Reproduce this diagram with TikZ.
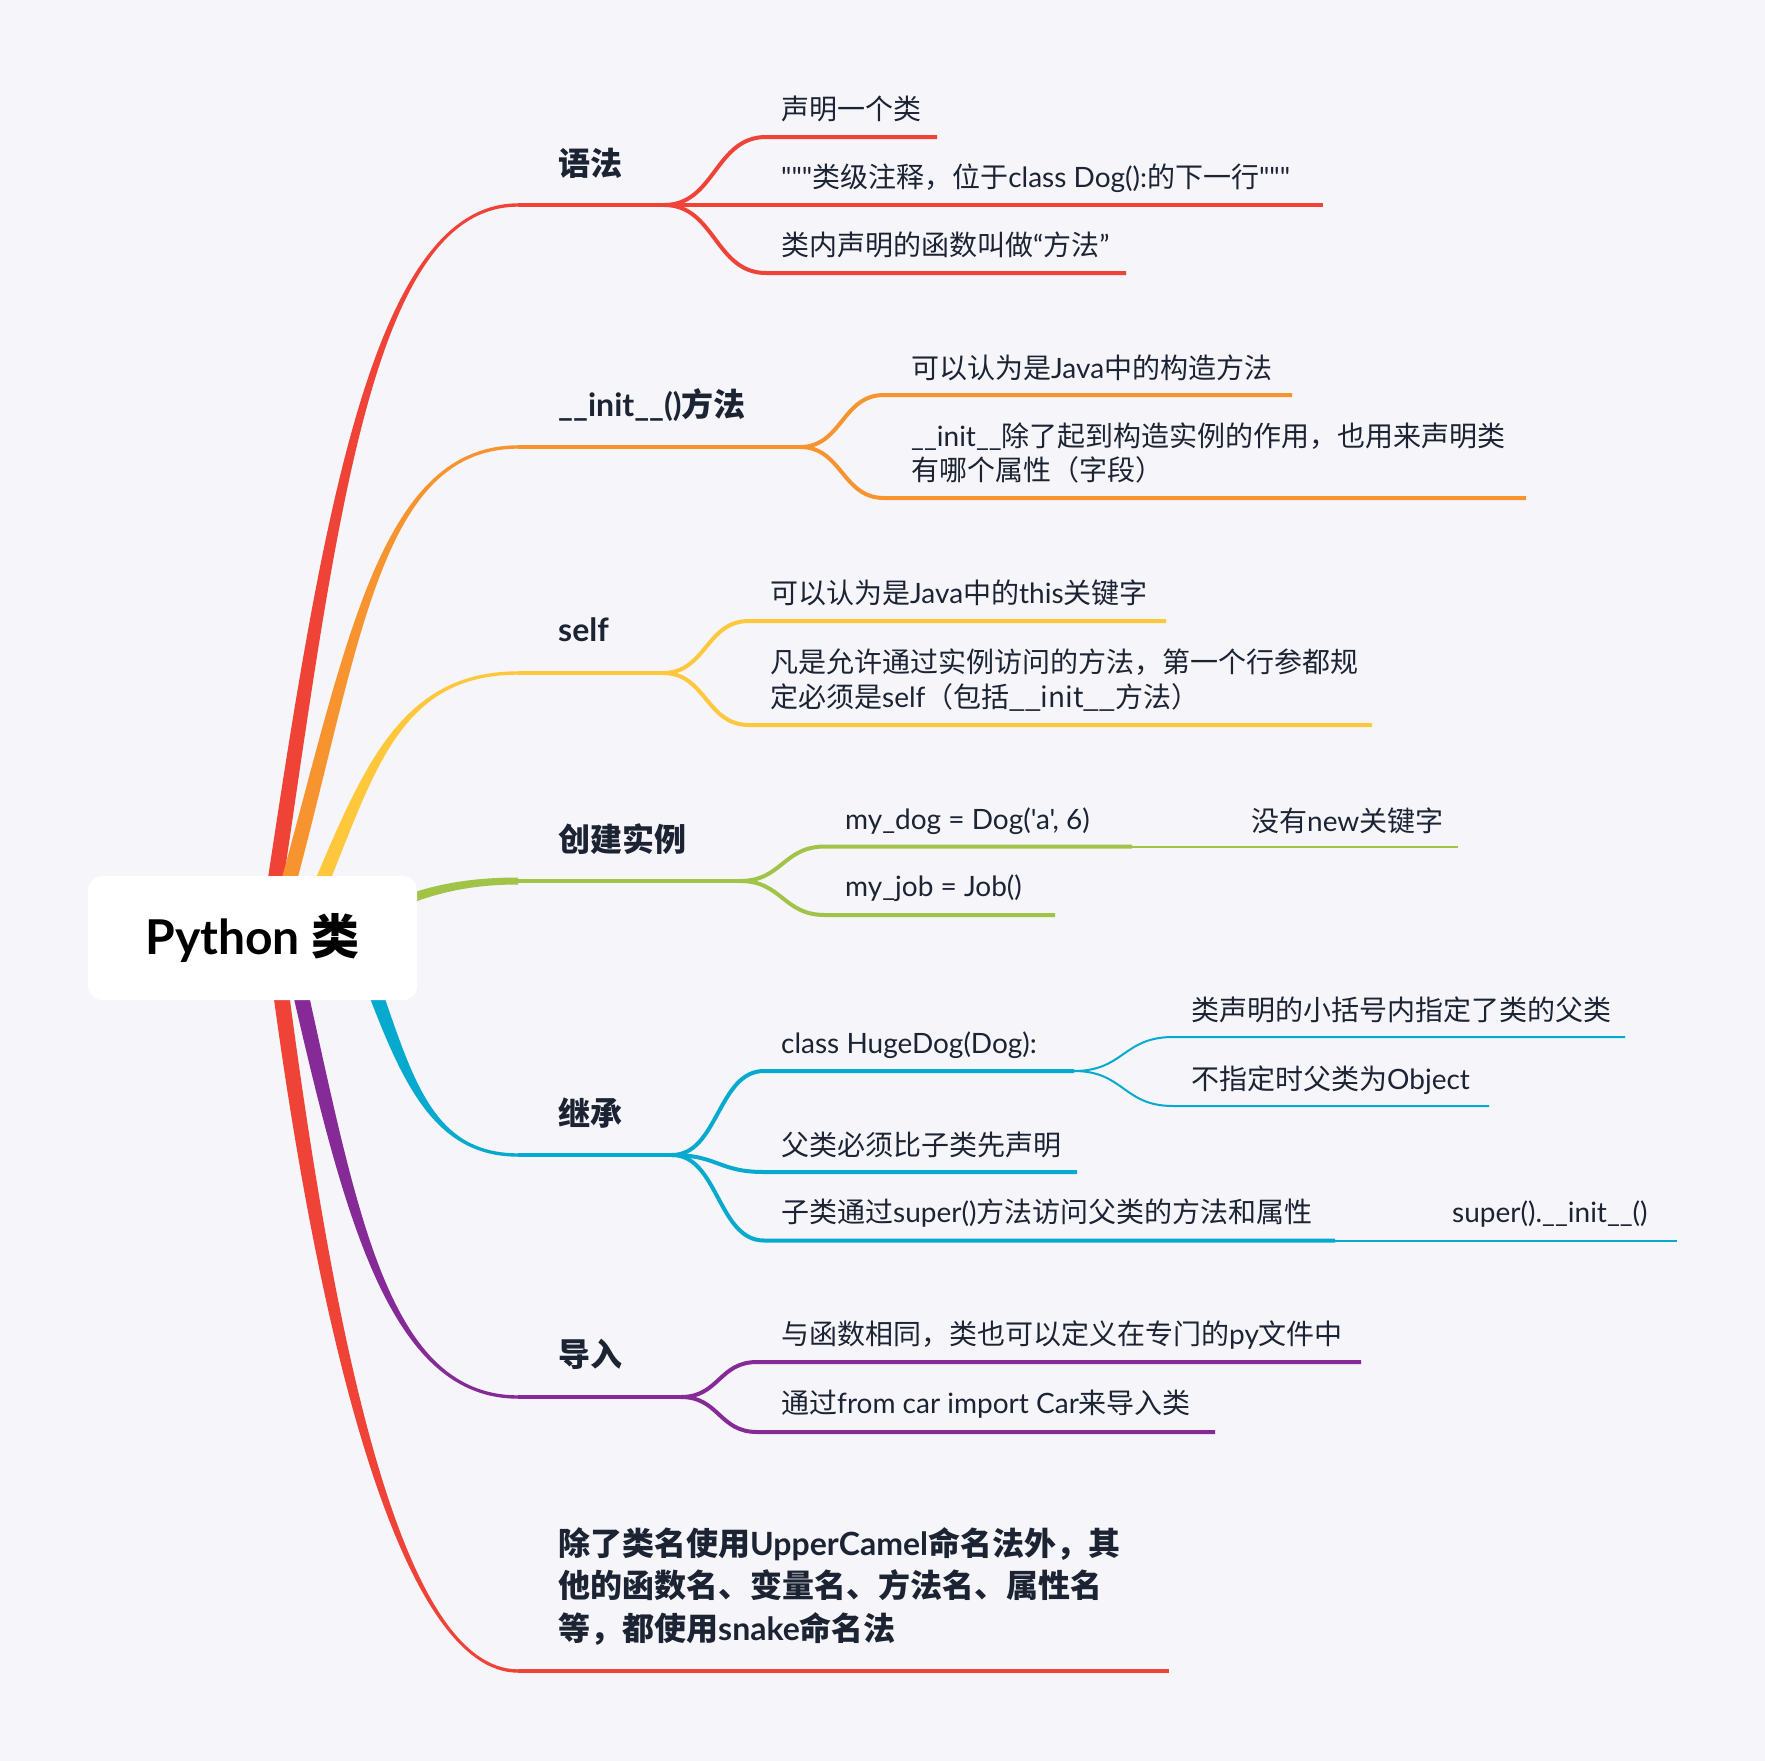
\documentclass[tikz,border=0pt]{standalone}
\usepackage{fontspec}
\usetikzlibrary{calc}
\newfontfamily\latinfont{Lato}
\newfontfamily\cjkfont{Noto Sans CJK SC}
\XeTeXinterchartokenstate=1
\newXeTeXintercharclass\CJKcls
\makeatletter
\def\setcjkrange#1#2{\count@=#1\relax\loop\XeTeXcharclass\count@=\CJKcls\relax\ifnum\count@<#2\relax\advance\count@\@ne\repeat}
\makeatother
\setcjkrange{"3000}{"303F}
\setcjkrange{"4E00}{"9FFF}
\setcjkrange{"FF00}{"FFEF}
\XeTeXinterchartoks 0 \CJKcls = {\cjkfont}
\XeTeXinterchartoks 4095 \CJKcls = {\cjkfont}
\XeTeXinterchartoks \CJKcls 0 = {\latinfont}
\definecolor{bg}{RGB}{245,245,250}
\definecolor{ink}{RGB}{28,36,52}
\definecolor{cred}{RGB}{240,67,55}
\definecolor{corange}{RGB}{248,148,48}
\definecolor{cyellow}{RGB}{255,200,60}
\definecolor{cgreen}{RGB}{161,196,72}
\definecolor{ccyan}{RGB}{6,170,207}
\definecolor{cpurple}{RGB}{133,42,150}
% tapered main branch: color, start, ctrl1, ctrl2 dx (relative to end), end, sign (-1 up, +1 down)
\newcommand\mainbranch[6]{%
  \fill[#1] ($(#2)+(-8,0)$) .. controls ($(#3)+(-8,0)$) and ($(#5)+(#4,{(#6)*1.7})$) .. ($(#5)+(0,{(#6)*1.7})$)
    -- ($(#5)+(0,{-(#6)*1.7})$) .. controls ($(#5)+(#4,{-(#6)*1.7})$) and ($(#3)+(8,0)$) .. ($(#2)+(8,0)$) -- cycle;}
\tikzset{
  childtext/.style={anchor=west, inner sep=0pt, text=ink, align=left,
    font=\latinfont\fontsize{28}{34.5}\selectfont},
  mlabel/.style={anchor=west, inner sep=0pt, text=ink, align=left,
    font=\latinfont\bfseries\fontsize{32}{42.5}\selectfont},
  conn/.style={line width=4pt},
  subconn/.style={line width=2pt},
  rootbox/.style={fill=white, rounded corners=14pt, minimum width=329pt, minimum height=124pt,
    inner sep=0pt, text=black, font=\latinfont\bfseries\fontsize{48}{56}\selectfont},
}
\begin{document}
\begin{tikzpicture}[x=1pt,y=-1pt]
\fill[bg] (0,0) rectangle (1765,1761);
\useasboundingbox (0,0) rectangle (1765,1761);

% ---------- main branch anchors
\coordinate (b1a) at (267,938); \coordinate (b1b) at (327,538); \coordinate (b1e) at (518,205);
\coordinate (b2a) at (273,938); \coordinate (b2b) at (351,670); \coordinate (b2e) at (518,447);
\coordinate (b3a) at (298,938); \coordinate (b3b) at (363,793); \coordinate (b3e) at (518,673);
\coordinate (b4a) at (330,939); \coordinate (b4b) at (390,902); \coordinate (b4e) at (518,881);
\coordinate (b5a) at (355,938); \coordinate (b5b) at (401,1056); \coordinate (b5e) at (518,1155);
\coordinate (b6a) at (288,938); \coordinate (b6b) at (346,1189); \coordinate (b6e) at (518,1397);
\coordinate (b7a) at (274,938); \coordinate (b7b) at (324,1338); \coordinate (b7e) at (518,1671);

\mainbranch{cred}{b1a}{b1b}{-150}{b1e}{-1}
\mainbranch{corange}{b2a}{b2b}{-147}{b2e}{-1}
\mainbranch{cyellow}{b3a}{b3b}{-132}{b3e}{-1}
\fill[cgreen] ($(b4a)+(0,-7)$) .. controls ($(b4b)+(0,-6)$) and ($(b4e)+(-78,-3.5)$) .. ($(b4e)+(0,-3.5)$)
  -- ($(b4e)+(0,3.5)$) .. controls ($(b4e)+(-78,3.5)$) and ($(b4b)+(0,6)$) .. ($(b4a)+(0,7)$) -- cycle;
\mainbranch{ccyan}{b5a}{b5b}{-98}{b5e}{1}
\mainbranch{cpurple}{b6a}{b6b}{-138}{b6e}{1}
\mainbranch{cred}{b7a}{b7b}{-118}{b7e}{1}

% ---------- root
\node[rootbox] (root) at (252.5,938) {Python 类};

% ---------- branch 1: 语法
\node[mlabel] (l1) at (558,163) {语法};
\coordinate (s1) at (664,205);
\coordinate (c1a) at (766,137); \coordinate (c1ae) at (937,137);
\coordinate (c1be) at (1323,205);
\coordinate (c1c) at (766,273); \coordinate (c1ce) at (1126,273);
\draw[conn,cred] (b1e) -- (s1);
\draw[conn,cred] (s1) .. controls +(51,0) and +(-51,0) .. (c1a) -- (c1ae);
\draw[conn,cred] (s1) -- (c1be);
\draw[conn,cred] (s1) .. controls +(51,0) and +(-51,0) .. (c1c) -- (c1ce);
\node[childtext] (t1a) at (781,109) {声明一个类};
\node[childtext] (t1b) at (781,178) {"""类级注释，位于class Dog():的下一行"""};
\node[childtext] (t1c) at (781,245) {类内声明的函数叫做“方法”};

% ---------- branch 2: __init__()方法
\node[mlabel] (l2) at (558,405) {\_\_init\_\_()方法};
\coordinate (s2) at (800,447);
\coordinate (c2a) at (884,395); \coordinate (c2ae) at (1292,395);
\coordinate (c2b) at (884,498); \coordinate (c2be) at (1526,498);
\draw[conn,corange] (b2e) -- (s2);
\draw[conn,corange] (s2) .. controls +(42,0) and +(-42,0) .. (c2a) -- (c2ae);
\draw[conn,corange] (s2) .. controls +(42,0) and +(-42,0) .. (c2b) -- (c2be);
\node[childtext] (t2a) at (911,368) {可以认为是Java中的构造方法};
\node[childtext] (t2b) at (911,453) {\_\_init\_\_除了起到构造实例的作用，也用来声明类\\有哪个属性（字段）};

% ---------- branch 3: self
\node[mlabel] (l3) at (558,630) {self};
\coordinate (s3) at (663,673);
\coordinate (c3a) at (749,621); \coordinate (c3ae) at (1166,621);
\coordinate (c3b) at (749,725); \coordinate (c3be) at (1372,725);
\draw[conn,cyellow] (b3e) -- (s3);
\draw[conn,cyellow] (s3) .. controls +(43,0) and +(-43,0) .. (c3a) -- (c3ae);
\draw[conn,cyellow] (s3) .. controls +(43,0) and +(-43,0) .. (c3b) -- (c3be);
\node[childtext] (t3a) at (770,593) {可以认为是Java中的this关键字};
\node[childtext] (t3b) at (770,680) {凡是允许通过实例访问的方法，第一个行参都规\\定必须是self（包括\_\_init\_\_方法）};

% ---------- branch 4: 创建实例
\node[mlabel] (l4) at (558,839) {创建实例};
\coordinate (s4) at (740,881);
\coordinate (c4a) at (825,846.5); \coordinate (c4ae) at (1132,846.5); \coordinate (c4af) at (1458,846.5);
\coordinate (c4b) at (825,915); \coordinate (c4be) at (1055,915);
\draw[conn,cgreen] (b4e) -- (s4);
\draw[conn,cgreen] (s4) .. controls +(42,0) and +(-42,0) .. (c4a) -- (c4ae);
\draw[subconn,cgreen] (c4ae) -- (c4af);
\draw[conn,cgreen] (s4) .. controls +(42,0) and +(-42,0) .. (c4b) -- (c4be);
\node[childtext] (t4a) at (845,821) {my\_dog = Dog('a', 6)};
\node[childtext] (t4aa) at (1251,821) {没有new关键字};
\node[childtext] (t4b) at (845,888) {my\_job = Job()};

% ---------- branch 5: 继承
\node[mlabel] (l5) at (558,1113) {继承};
\coordinate (s5) at (672,1155);
\coordinate (c5a) at (764,1071); \coordinate (c5ae) at (1074,1071);
\coordinate (c5b) at (764,1172); \coordinate (c5be) at (1077,1172);
\coordinate (c5c) at (764,1240.5); \coordinate (c5ce) at (1335,1240.5); \coordinate (c5cf) at (1677,1240.5);
\coordinate (d1) at (1173,1037); \coordinate (d1e) at (1625,1037);
\coordinate (d2) at (1173,1106); \coordinate (d2e) at (1489,1106);
\draw[conn,ccyan] (b5e) -- (s5);
\draw[conn,ccyan] (s5) .. controls +(46,0) and +(-46,0) .. (c5a) -- (c5ae);
\draw[conn,ccyan] (s5) .. controls +(46,0) and +(-46,0) .. (c5b) -- (c5be);
\draw[conn,ccyan] (s5) .. controls +(46,0) and +(-46,0) .. (c5c) -- (c5ce);
\draw[subconn,ccyan] (c5ce) -- (c5cf);
\draw[subconn,ccyan] (c5ae) .. controls +(50,0) and +(-50,0) .. (d1) -- (d1e);
\draw[subconn,ccyan] (c5ae) .. controls +(50,0) and +(-50,0) .. (d2) -- (d2e);
\node[childtext] (t5a) at (781,1045) {class HugeDog(Dog):};
\node[childtext] (t5aa) at (1191,1010) {类声明的小括号内指定了类的父类};
\node[childtext] (t5ab) at (1191,1080) {不指定时父类为Object};
\node[childtext] (t5b) at (781,1145) {父类必须比子类先声明};
\node[childtext] (t5c) at (781,1213.5) {子类通过super()方法访问父类的方法和属性};
\node[childtext] (t5ca) at (1452,1214.5) {super().\_\_init\_\_()};

% ---------- branch 6: 导入
\node[mlabel] (l6) at (558,1354) {导入};
\coordinate (s6) at (681,1397);
\coordinate (c6a) at (757,1362); \coordinate (c6ae) at (1361,1362);
\coordinate (c6b) at (757,1432); \coordinate (c6be) at (1215,1432);
\draw[conn,cpurple] (b6e) -- (s6);
\draw[conn,cpurple] (s6) .. controls +(38,0) and +(-38,0) .. (c6a) -- (c6ae);
\draw[conn,cpurple] (s6) .. controls +(38,0) and +(-38,0) .. (c6b) -- (c6be);
\node[childtext] (t6a) at (781,1335) {与函数相同，类也可以定义在专门的py文件中};
\node[childtext] (t6b) at (781,1404) {通过from car import Car来导入类};

% ---------- branch 7
\coordinate (s7) at (1169,1671);
\draw[conn,cred] (b7e) -- (s7);
\node[mlabel] (l7) at (558,1586) {除了类名使用UpperCamel命名法外，其\\他的函数名、变量名、方法名、属性名\\等，都使用snake命名法};
\end{tikzpicture}
\end{document}
